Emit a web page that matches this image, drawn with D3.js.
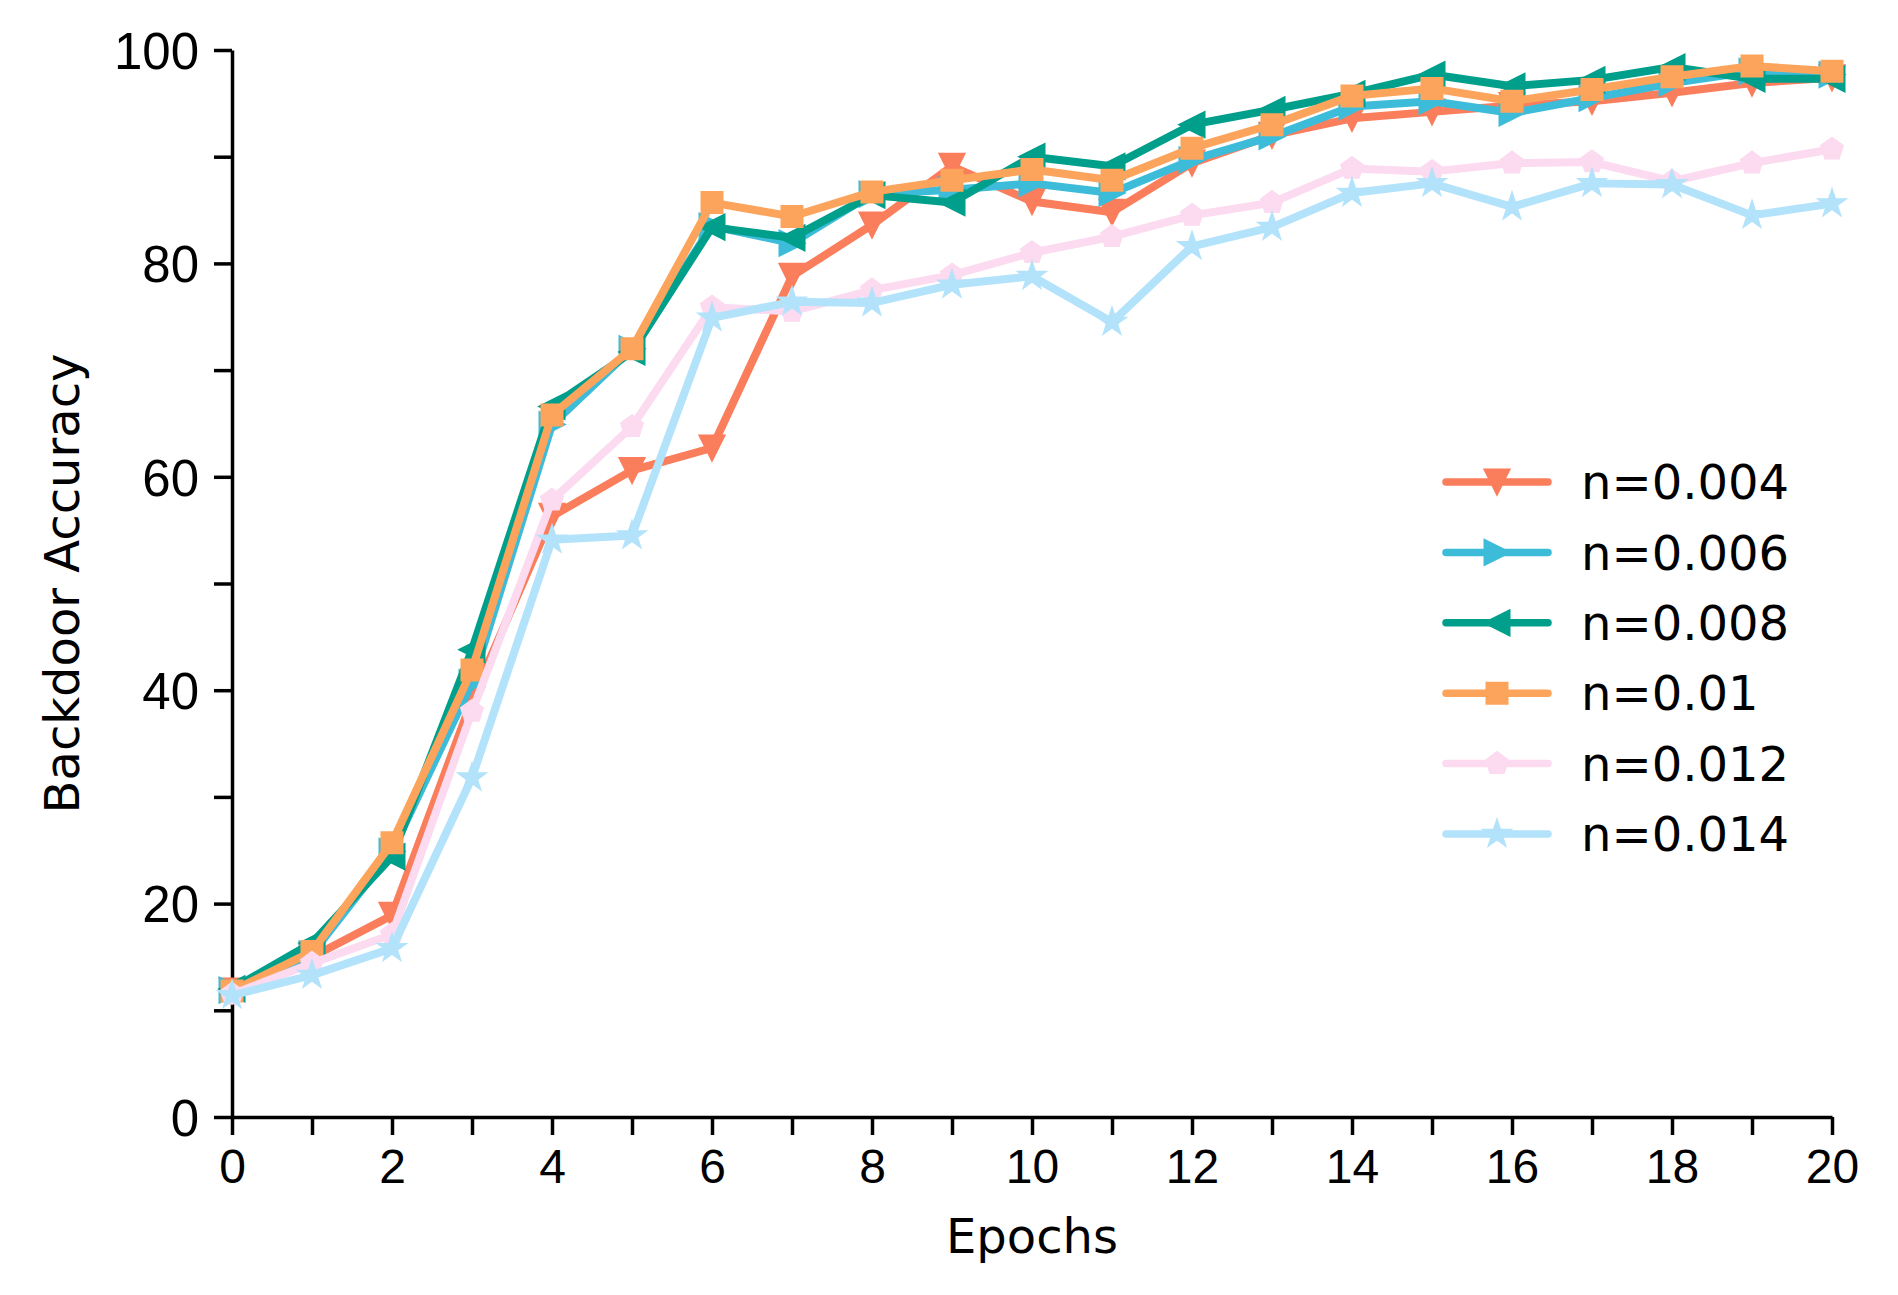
<!DOCTYPE html>
<html lang="en">
<head>
<meta charset="UTF-8">
<title>Backdoor Accuracy vs Epochs</title>
<script src="https://d3js.org/d3.v7.min.js"></script>
<style>
    body { margin: 0; background: #fff; }
    svg { display: block; font-family: "DejaVu Sans", sans-serif; }
    .axis path, .axis line { stroke: #000; stroke-width: 3.5; }
    .axis text { font-size: 48px; fill: #000; }
</style>
</head>
<body>
<div id="chart"></div>
<script>
    // epochs and accuracy per noise level
    const epochs = [0, 1, 2, 3, 4, 5, 6, 7, 8, 9, 10, 11, 12, 13, 14, 15, 16, 17, 18, 19, 20];
    const n004 = [11.8, 15.0, 18.9, 39.1, 56.3, 60.6, 62.7, 78.8, 83.6, 89.1, 85.8, 84.8, 89.4, 92.0, 93.6, 94.2, 94.8, 95.2, 96.0, 96.9, 97.4];
    const n006 = [11.9, 15.3, 24.9, 40.7, 64.9, 72.0, 83.5, 81.9, 86.5, 86.9, 87.5, 86.6, 89.7, 91.9, 94.7, 95.2, 94.1, 95.5, 96.9, 98.0, 97.7];
    const n008 = [12.0, 16.3, 24.4, 43.8, 66.6, 71.7, 83.4, 82.4, 86.4, 85.7, 90.0, 89.1, 93.0, 94.4, 95.9, 97.7, 96.6, 97.2, 98.4, 97.3, 97.3];
    const n010 = [11.8, 15.5, 25.7, 41.9, 65.8, 72.0, 85.7, 84.4, 86.7, 87.8, 88.8, 87.8, 90.8, 93.0, 95.7, 96.4, 95.2, 96.3, 97.5, 98.5, 98.0];
    const n012 = [11.5, 14.4, 17.1, 38.0, 57.8, 64.7, 75.9, 75.5, 77.5, 78.9, 81.0, 82.5, 84.5, 85.7, 88.9, 88.6, 89.4, 89.5, 87.7, 89.4, 90.7];
    const n014 = [11.4, 13.3, 15.8, 31.8, 54.1, 54.5, 74.9, 76.4, 76.3, 78.0, 78.8, 74.5, 81.6, 83.4, 86.6, 87.5, 85.3, 87.5, 87.4, 84.5, 85.6];

    const labels = ["n=0.004", "n=0.006", "n=0.008", "n=0.01", "n=0.012", "n=0.014"];
    const colors = ["#fa7d5c", "#3dbcd9", "#009f8b", "#fda45c", "#fcdaf0", "#b3e2fb"];
    const shapes = ["tri_down", "tri_right", "tri_left", "square", "pentagon", "star"];
    const seriesValues = [n004, n006, n008, n010, n012, n014];

    const xTicks = [0, 1, 2, 3, 4, 5, 6, 7, 8, 9, 10, 11, 12, 13, 14, 15, 16, 17, 18, 19, 20];
    const yTicks = [0, 10, 20, 30, 40, 50, 60, 70, 80, 90, 100];

    const width = 1898, height = 1295;
    const margin = { left: 232, right: 66, top: 50, bottom: 178 };

    const svg = d3.select("#chart").append("svg")
        .attr("width", width).attr("height", height);

    const x = d3.scaleLinear().domain([0, 20]).range([margin.left, width - margin.right]);
    const y = d3.scaleLinear().domain([0, 100]).range([height - margin.bottom, margin.top]);

    // marker path builders (size ~ matplotlib markersize in px)
    function polygon(points) {
        return "M" + points.map(p => p[0].toFixed(2) + "," + p[1].toFixed(2)).join("L") + "Z";
    }
    function markerPath(shape) {
        const s = 12.5;
        if (shape === "tri_down") return polygon([[0, s], [-s, -s], [s, -s]]);
        if (shape === "tri_right") return polygon([[s, 0], [-s, -s], [-s, s]]);
        if (shape === "tri_left") return polygon([[-s, 0], [s, -s], [s, s]]);
        if (shape === "square") return polygon([[-10.5, -10.5], [10.5, -10.5], [10.5, 10.5], [-10.5, 10.5]]);
        if (shape === "pentagon") {
            const r = 11.5;
            return polygon(d3.range(5).map(i => {
                const a = -Math.PI / 2 + i * 2 * Math.PI / 5;
                return [r * Math.cos(a), r * Math.sin(a)];
            }));
        }
        const R = 14, r = R * 0.381966;
        return polygon(d3.range(10).map(i => {
            const a = -Math.PI / 2 + i * Math.PI / 5;
            const rad = i % 2 === 0 ? R : r;
            return [rad * Math.cos(a), rad * Math.sin(a)];
        }));
    }

    // axes
    const yAxis = d3.axisLeft(y)
        .tickValues(yTicks)
        .tickFormat(d => d % 20 === 0 ? d : "")
        .tickSize(18).tickSizeOuter(0).tickPadding(15);
    const xAxis = d3.axisBottom(x)
        .tickValues(xTicks)
        .tickFormat(d => d % 2 === 0 ? d : "")
        .tickSize(18).tickSizeOuter(0).tickPadding(14);

    const gy = svg.append("g").attr("class", "axis")
        .attr("transform", `translate(${margin.left},0)`).call(yAxis);
    gy.selectAll("text").attr("dy", "0.36em").style("font-size", "51px");
    svg.append("g").attr("class", "axis")
        .attr("transform", `translate(0,${height - margin.bottom})`).call(xAxis);

    svg.append("text")
        .attr("x", (margin.left + width - margin.right) / 2)
        .attr("y", 1253)
        .attr("text-anchor", "middle")
        .attr("font-size", 48)
        .text("Epochs");

    svg.append("text")
        .attr("transform", `translate(79,${(margin.top + height - margin.bottom) / 2}) rotate(-90)`)
        .attr("text-anchor", "middle")
        .attr("font-size", 48)
        .text("Backdoor Accuracy");

    // lines + markers, one series after another (later ones on top)
    const line = d3.line().x(d => x(d[0])).y(d => y(d[1]));

    seriesValues.forEach((vals, i) => {
        const pts = epochs.map((e, j) => [e, vals[j]]);
        const g = svg.append("g");
        g.append("path")
            .attr("d", line(pts))
            .attr("fill", "none")
            .attr("stroke", colors[i])
            .attr("stroke-width", 8)
            .attr("stroke-linejoin", "round")
            .attr("stroke-linecap", "round");
        g.selectAll("path.mk").data(pts).enter().append("path")
            .attr("class", "mk")
            .attr("d", markerPath(shapes[i]))
            .attr("transform", d => `translate(${x(d[0])},${y(d[1])})`)
            .attr("fill", colors[i])
            .attr("stroke", colors[i])
            .attr("stroke-width", 2)
            .attr("stroke-linejoin", "miter");
    });

    // legend
    const legend = svg.append("g").attr("transform", "translate(1446,482)");
    labels.forEach((lab, i) => {
        const row = legend.append("g").attr("transform", `translate(0,${i * 70.4})`);
        row.append("line")
            .attr("x1", 0).attr("x2", 102).attr("y1", 0).attr("y2", 0)
            .attr("stroke", colors[i]).attr("stroke-width", 7.5)
            .attr("stroke-linecap", "round");
        row.append("path")
            .attr("d", markerPath(shapes[i]))
            .attr("transform", "translate(51,0)")
            .attr("fill", colors[i]).attr("stroke", colors[i])
            .attr("stroke-width", 2);
        row.append("text")
            .attr("x", 135).attr("y", 0).attr("dy", "0.36em")
            .attr("font-size", 48)
            .text(lab);
    });
</script>
</body>
</html>
